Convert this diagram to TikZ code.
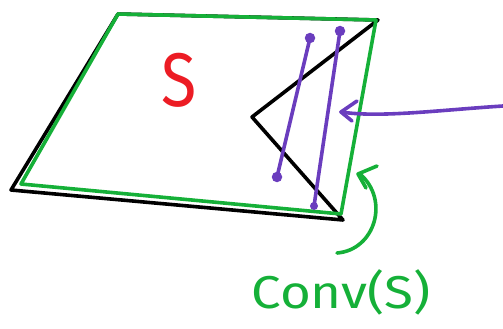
\documentclass[tikz,border=0pt]{standalone}
\usepackage{fontspec}
\setmainfont{Fira Sans}
\definecolor{pgreen}{HTML}{15B038}
\definecolor{ppurple}{HTML}{6A3DBE}
\definecolor{pred}{HTML}{EC1C24}
\begin{document}
\begin{tikzpicture}[x=1pt,y=-1pt,
  ink/.style={line width=3.6pt,line cap=round,line join=round},
  dotp/.style={circle,fill=ppurple,inner sep=0pt,minimum size=10.5pt}]
\useasboundingbox (0,0) rectangle (503,329);
% black set S
\draw[ink,black] (118,14) -- (378,20) -- (252,117) -- (343,220) -- (11,190) -- cycle;
% green convex hull
\draw[ink,pgreen] (118,14) -- (376,20) -- (341,214) -- (21,184) -- cycle;
% purple segments
\node[dotp] (a1) at (310,38) {};
\node[dotp] (a2) at (277,177) {};
\node[dotp] (b1) at (340,31) {};
\node[dotp,minimum size=8pt] (b2) at (314,206) {};
\draw[ink,ppurple] (a1.center) -- (a2.center);
\draw[ink,ppurple] (b1.center) -- (b2.center);
% purple arrow
\coordinate (pa) at (503,106);
\coordinate (pt) at (341,112);
\draw[ink,ppurple] (pa) .. controls (440,110) and (380,118) .. (pt);
\draw[ink,ppurple] (357,101) -- (pt) -- (352,121);
% green arrow
\coordinate (ga) at (337,253);
\coordinate (gt) at (360,174);
\draw[ink,pgreen] (ga) .. controls (375,250) and (390,200) .. (gt);
\draw[ink,pgreen] (377,166) -- (358,174) -- (366,188);
% labels
\node[text=pred,font=\fontsize{76}{76}\selectfont\addfontfeature{FakeBold=0}\fontseries{l}\selectfont,xscale=0.85] (s) at (179,80) {S};
\node[text=pgreen,font=\fontsize{46}{46}\selectfont,xscale=1.15] (conv) at (341,292) {Conv(S)};
\end{tikzpicture}
\end{document}
